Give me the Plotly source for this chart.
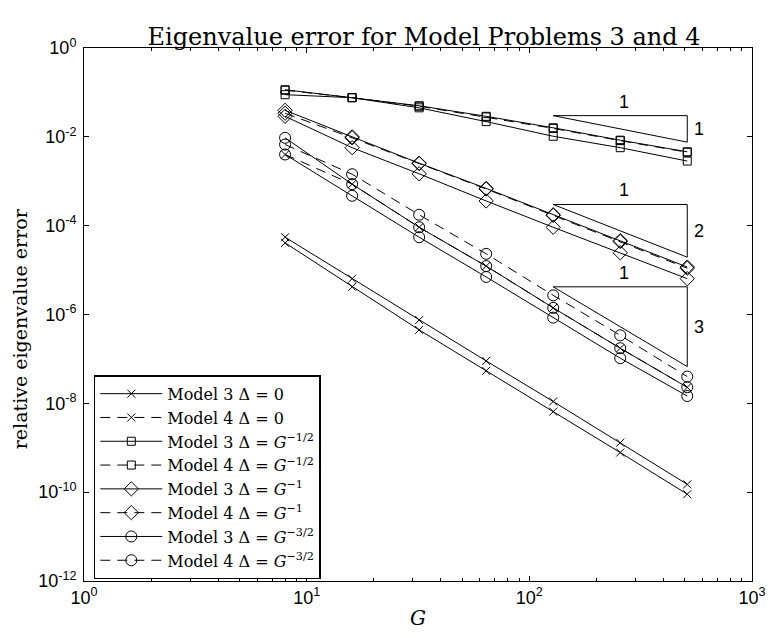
import math
import plotly.graph_objects as go

# Problem sizes
G = [8, 16, 32, 64, 128, 256, 512]

# Relative eigenvalue errors
x_model3 = [5.5e-5, 6.4e-6, 7.5e-7, 9.0e-8, 1.1e-8, 1.3e-9, 1.5e-10]
x_model3_b = [4.1e-5, 4.2e-6, 4.5e-7, 5.4e-8, 6.5e-9, 7.8e-10, 9.0e-11]
x_model4 = [4.0e-3, 8.6e-4, 9.2e-5, 1.23e-5, 1.41e-6, 1.74e-7, 2.3e-8]

sq_model3 = [1.15e-1, 7.7e-2, 5.0e-2, 2.9e-2, 1.6e-2, 8.4e-3, 4.6e-3]
sq_model4 = [1.12e-1, 7.6e-2, 4.9e-2, 2.8e-2, 1.55e-2, 8.2e-3, 4.5e-3]
sq_model3_b = [8.9e-2, 7.6e-2, 4.5e-2, 2.2e-2, 1.03e-2, 5.7e-3, 2.85e-3]

dm_model3 = [3.95e-2, 1.0e-2, 2.55e-3, 6.9e-4, 1.76e-4, 4.6e-5, 1.17e-5]
dm_model4 = [3.4e-2, 9.5e-3, 2.5e-3, 6.7e-4, 1.7e-4, 4.4e-5, 1.1e-5]
dm_model3_b = [2.9e-2, 5.7e-3, 1.47e-3, 3.6e-4, 9.2e-5, 2.45e-5, 6.4e-6]

ci_model3 = [9.5e-3, 8.6e-4, 9.2e-5, 1.23e-5, 1.41e-6, 1.74e-7, 2.3e-8]
ci_model4 = [6.7e-3, 1.44e-3, 1.76e-4, 2.32e-5, 2.7e-6, 3.4e-7, 4.0e-8]
ci_model3_b = [4.0e-3, 4.7e-4, 5.5e-5, 7.0e-6, 8.5e-7, 1.04e-7, 1.46e-8]

# Slope triangles: horizontal leg from G=128 to G=512, vertical leg at G=512
tri_g = [128, 512]
tri_top = [3.0e-2, 3.0e-4, 4.2e-6]
tri_bottom = [7.6e-3, 1.95e-5, 6.7e-8]
tri_rise = ["1", "2", "3"]
tri_run = ["1", "1", "1"]

y_tickvals = [1e-12, 1e-10, 1e-8, 1e-6, 1e-4, 1e-2, 1]
y_ticktext = ["10<sup>-12</sup>", "10<sup>-10</sup>", "10<sup>-8</sup>", "10<sup>-6</sup>",
              "10<sup>-4</sup>", "10<sup>-2</sup>", "10<sup>0</sup>"]
x_tickvals = [1, 10, 100, 1000]
x_ticktext = ["10<sup>0</sup>", "10<sup>1</sup>", "10<sup>2</sup>", "10<sup>3</sup>"]
x_minor = [m * d for d in (1, 10, 100) for m in range(2, 10)]

SERIF = "DejaVu Serif"
SANS = "Liberation Sans, Arial, sans-serif"
DASH = "10px,7px"

fig = go.Figure()


def add(y, name, symbol, size, dash, show=True):
    fig.add_trace(go.Scatter(
        x=G, y=y, name=name, mode="lines+markers", showlegend=show,
        line=dict(color="black", width=1, dash=dash),
        marker=dict(symbol=symbol, size=size, color="black",
                    line=dict(color="black", width=1)),
    ))


# Lines without legend entries
add(x_model3_b, "", "x-thin-open", 8, "solid", show=False)
add(sq_model3_b, "", "square-open", 8, "solid", show=False)
add(dm_model3_b, "", "diamond-open", 11, "solid", show=False)
add(ci_model3_b, "", "circle-open", 11, "solid", show=False)

# Legend entries
add(x_model3, "Model 3 Δ = 0", "x-thin-open", 8, "solid")
add(x_model4, "Model 4 Δ = 0", "x-thin-open", 8, DASH)
add(sq_model3, "Model 3 Δ = <i>G</i><sup>−1/2</sup>", "square-open", 8, "solid")
add(sq_model4, "Model 4 Δ = <i>G</i><sup>−1/2</sup>", "square-open", 8, DASH)
add(dm_model3, "Model 3 Δ = <i>G</i><sup>−1</sup>", "diamond-open", 11, "solid")
add(dm_model4, "Model 4 Δ = <i>G</i><sup>−1</sup>", "diamond-open", 11, DASH)
add(ci_model3, "Model 3 Δ = <i>G</i><sup>−3/2</sup>", "circle-open", 11, "solid")
add(ci_model4, "Model 4 Δ = <i>G</i><sup>−3/2</sup>", "circle-open", 11, DASH)

# Slope triangles
annotations = []
for top, bottom, rise, run in zip(tri_top, tri_bottom, tri_rise, tri_run):
    fig.add_trace(go.Scatter(
        x=[tri_g[0], tri_g[1], tri_g[1], tri_g[0]],
        y=[top, top, bottom, top],
        mode="lines", showlegend=False, hoverinfo="skip",
        line=dict(color="black", width=1),
    ))
    gm = math.log10(tri_g[0] * tri_g[1]) / 2
    annotations.append(dict(x=gm, y=math.log10(top), text=run, showarrow=False,
                            yanchor="bottom", yshift=2, xshift=4,
                            font=dict(family=SANS, size=18, color="black")))
    annotations.append(dict(x=math.log10(tri_g[1]), y=(math.log10(top) + math.log10(bottom)) / 2,
                            text=rise, showarrow=False, xanchor="left", xshift=5,
                            font=dict(family=SANS, size=18, color="black")))

# Vertical axis label
annotations.append(dict(xref="paper", yref="paper", x=-0.096, y=0.474,
                        xanchor="center", yanchor="middle", textangle=-90,
                        text="relative eigenvalue error", showarrow=False,
                        font=dict(family=SERIF, size=19, color="black")))

axis_common = dict(
    type="log", showline=True, linecolor="black", linewidth=1, mirror="ticks",
    ticks="inside", ticklen=5, tickcolor="black", showgrid=False, zeroline=False,
    tickfont=dict(family=SANS, size=18, color="black"),
)

fig.update_layout(
    width=778, height=638,
    margin=dict(l=84, r=14, t=48, b=54),
    paper_bgcolor="white", plot_bgcolor="white",
    title=dict(text="Eigenvalue error for Model Problems 3 and 4",
               x=0.545, xanchor="center", y=0.943, yanchor="middle",
               font=dict(family=SERIF, size=24, color="black")),
    xaxis=dict(axis_common, range=[0, 3], tickvals=x_tickvals, ticktext=x_ticktext,
               minor=dict(tickvals=x_minor, ticks="inside", ticklen=3, tickcolor="black"),
               title=dict(text="<i>G</i>", standoff=4,
                          font=dict(family=SERIF, size=20, color="black"))),
    yaxis=dict(axis_common, range=[-12, 0], tickvals=y_tickvals, ticktext=y_ticktext,
               ticklabelstandoff=3),
    legend=dict(x=0.0147, y=0.386, xanchor="left", yanchor="top",
                bgcolor="white", bordercolor="black", borderwidth=1.5,
                font=dict(family=SERIF, size=16, color="black"),
                tracegroupgap=0, itemwidth=62),
    annotations=annotations,
)

fig.write_html("out.html")
